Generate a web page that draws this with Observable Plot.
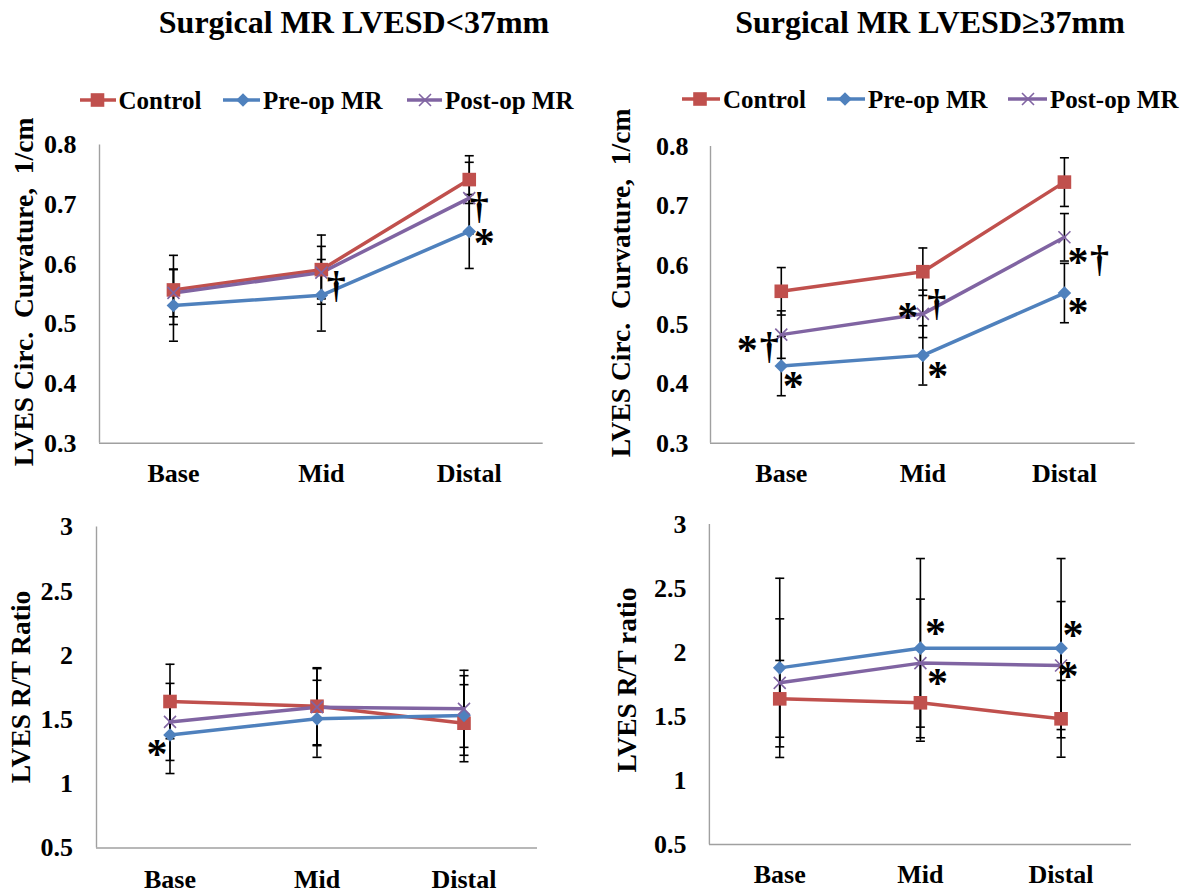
<!DOCTYPE html>
<html><head><meta charset="utf-8">
<script src="https://cdn.jsdelivr.net/npm/d3@7"></script>
<script src="https://cdn.jsdelivr.net/npm/@observablehq/plot@0.6"></script>
<style>
body{margin:0;background:#fff;}
#root{position:relative;width:1190px;height:894px;overflow:hidden;font-family:"Liberation Serif","Times New Roman",serif;font-weight:bold;color:#000;}
.abs{position:absolute;white-space:pre;line-height:1;}
.panel{position:absolute;}
</style></head><body><div id="root"></div>
<script>
// ---------- DATA ----------
const categories = ["Base", "Mid", "Distal"];
const seriesNames = ["Control", "Pre-op MR", "Post-op MR"];
const titles = ["Surgical MR LVESD<37mm", "Surgical MR LVESD\u226537mm"];
const yTitles = ["LVES Circ.  Curvature,  1/cm", "LVES Circ.  Curvature,  1/cm", "LVES R/T Ratio", "LVES R/T ratio"];

const curvTicks = [0.3, 0.4, 0.5, 0.6, 0.7, 0.8];
const curvTickLabels = ["0.3", "0.4", "0.5", "0.6", "0.7", "0.8"];
const ratioTicks = [0.5, 1, 1.5, 2, 2.5, 3];
const ratioTickLabels = ["0.5", "1", "1.5", "2", "2.5", "3"];

// Panel A: LVESD<37mm, circumferential curvature (mean, SD)
const curvSmallControl = [0.557, 0.591, 0.742];
const curvSmallPreop   = [0.531, 0.548, 0.655];
const curvSmallPostop  = [0.552, 0.586, 0.711];
const curvSmallControlSD = [0.058, 0.058, 0.040];
const curvSmallPreopSD   = [0.060, 0.060, 0.062];
const curvSmallPostopSD  = [0.040, 0.044, 0.060];

// Panel B: LVESD>=37mm, circumferential curvature
const curvLargeControl = [0.556, 0.589, 0.740];
const curvLargePreop   = [0.430, 0.448, 0.553];
const curvLargePostop  = [0.483, 0.518, 0.647];
const curvLargeControlSD = [0.040, 0.040, 0.041];
const curvLargePreopSD   = [0.050, 0.050, 0.050];
const curvLargePostopSD  = [0.040, 0.040, 0.040];

// Panel C: LVESD<37mm, R/T ratio
const ratioSmallControl = [1.641, 1.604, 1.472];
const ratioSmallPreop   = [1.380, 1.506, 1.532];
const ratioSmallPostop  = [1.482, 1.597, 1.584];
const ratioSmallControlSD = [0.29, 0.30, 0.30];
const ratioSmallPreopSD   = [0.30, 0.30, 0.31];
const ratioSmallPostopSD  = [0.30, 0.30, 0.30];

// Panel D: LVESD>=37mm, R/T ratio
const ratioLargeControl = [1.638, 1.607, 1.482];
const ratioLargePreop   = [1.880, 2.034, 2.034];
const ratioLargePostop  = [1.763, 1.917, 1.898];
const ratioLargeControlSD = [0.30, 0.30, 0.30];
const ratioLargePreopSD   = [0.70, 0.70, 0.70];
const ratioLargePostopSD  = [0.50, 0.50, 0.50];

// Significance marks: [category, value, symbol]
const annA = [["Mid", 0.561, "\u2020"], ["Distal", 0.694, "\u2020"], ["Distal", 0.646, "*"]];
const annB = [["Base", 0.468, "*"], ["Base", 0.460, "\u2020"], ["Base", 0.406, "*"],
              ["Mid", 0.523, "*"], ["Mid", 0.533, "\u2020"], ["Mid", 0.424, "*"],
              ["Distal", 0.615, "*"], ["Distal", 0.607, "\u2020"], ["Distal", 0.531, "*"]];
const annC = [["Base", 1.279, "*"]];
const annD = [["Mid", 2.198, "*"], ["Mid", 1.807, "*"], ["Distal", 2.185, "*"], ["Distal", 1.862, "*"]];

// ---------- STYLE ----------
const colors = ["#C0504D", "#4F81BD", "#8064A2"];
const FONT = "Liberation Serif, Times New Roman, serif";
const STAR_FS = 42, DAGGER_FS = 38;
const symSquare = {draw(c){ c.moveTo(-6.8,-6.8); c.lineTo(6.8,-6.8); c.lineTo(6.8,6.8); c.lineTo(-6.8,6.8); c.closePath(); }};
const symDiamond = {draw(c){ c.moveTo(0,-6.8); c.lineTo(6.8,0); c.lineTo(0,6.8); c.lineTo(-6.8,0); c.closePath(); }};
const symTimes = {draw(c){ c.moveTo(-6,-6); c.lineTo(6,6); c.moveTo(6,-6); c.lineTo(-6,6); }};
const symCap = {draw(c){ c.moveTo(-4.5,0); c.lineTo(4.5,0); }};
const symbols = [symSquare, symDiamond, symTimes];

const panels = [
  {left:0, top:120, width:595, height:380, mL:99, mR:52.3, mT:24.5, mB:57.3, yDomain:[0.3,0.8], ticks:curvTicks, tickLabels:curvTickLabels, yPad:23, xPad:20.8,
   values:[curvSmallControl, curvSmallPreop, curvSmallPostop], sds:[curvSmallControlSD, curvSmallPreopSD, curvSmallPostopSD], ann:annA, annDx:[15, 10, 15]},
  {left:595, top:120, width:595, height:380, mL:115, mR:55.3, mT:26, mB:57.3, yDomain:[0.3,0.8], ticks:curvTicks, tickLabels:curvTickLabels, yPad:22, xPad:20.8,
   values:[curvLargeControl, curvLargePreop, curvLargePostop], sds:[curvLargeControlSD, curvLargePreopSD, curvLargePostopSD], ann:annB, annDx:[-34, -12, 12, -15, 14, 15, 13.5, 35, 13.5]},
  {left:0, top:500, width:595, height:394, mL:96, mR:58, mT:26.5, mB:46.5, yDomain:[0.5,3], ticks:ratioTicks, tickLabels:ratioTickLabels, yPad:23.5, xPad:22,
   values:[ratioSmallControl, ratioSmallPreop, ratioSmallPostop], sds:[ratioSmallControlSD, ratioSmallPreopSD, ratioSmallPostopSD], ann:annC, annDx:[-13]},
  {left:595, top:500, width:595, height:394, mL:113.9, mR:59.1, mT:24, mB:50, yDomain:[0.5,3], ticks:ratioTicks, tickLabels:ratioTickLabels, yPad:23, xPad:20.5,
   values:[ratioLargeControl, ratioLargePreop, ratioLargePostop], sds:[ratioLargeControlSD, ratioLargePreopSD, ratioLargePostopSD], ann:annD, annDx:[15, 17, 12, 7]}
];

const root = document.getElementById("root");

function makePanel(p) {
  const rows = [];
  seriesNames.forEach((s, si) => {
    categories.forEach((c, ci) => {
      const v = p.values[si][ci], sd = p.sds[si][ci];
      rows.push({series: s, si, cat: c, xi: ci + 0.5, value: v, lo: v - sd, hi: v + sd});
    });
  });
  const annRows = p.ann.map((a, i) => ({xi: categories.indexOf(a[0]) + 0.5, value: a[1], sym: a[2], dx: p.annDx[i]}));
  const stars = annRows.filter(d => d.sym === "*");
  const daggers = annRows.filter(d => d.sym !== "*");
  const marks = [
    Plot.axisY({ticks: p.ticks, tickFormat: d => p.tickLabels[p.ticks.indexOf(d)], tickSize: 0, tickPadding: p.yPad, label: null,
                fontSize: 26, fontWeight: "bold", fontFamily: FONT, fill: "#000"}),
    Plot.axisX({ticks: [0.5, 1.5, 2.5], tickFormat: d => categories[Math.floor(d)], tickSize: 0, tickPadding: p.xPad, label: null,
                fontSize: 26, fontWeight: "bold", fontFamily: FONT, fill: "#000"}),
    Plot.ruleX([0], {stroke: "#a0a0a0", strokeWidth: 1.4}),
    Plot.ruleY([p.yDomain[0]], {stroke: "#a0a0a0", strokeWidth: 1.4}),
    Plot.ruleX(rows, {x: "xi", y1: "lo", y2: "hi", stroke: "#000", strokeWidth: 1.6}),
    Plot.dot(rows, {x: "xi", y: "lo", symbol: symCap, fill: "none", stroke: "#000", strokeWidth: 1.6}),
    Plot.dot(rows, {x: "xi", y: "hi", symbol: symCap, fill: "none", stroke: "#000", strokeWidth: 1.6}),
  ];
  seriesNames.forEach((s, si) => {
    const sr = rows.filter(r => r.si === si);
    marks.push(Plot.line(sr, {x: "xi", y: "value", stroke: colors[si], strokeWidth: 3.5, strokeLinejoin: "round"}));
  });
  seriesNames.forEach((s, si) => {
    const sr = rows.filter(r => r.si === si);
    if (si === 2) marks.push(Plot.dot(sr, {x: "xi", y: "value", symbol: symbols[si], fill: "none", stroke: colors[si], strokeWidth: 1.6}));
    else marks.push(Plot.dot(sr, {x: "xi", y: "value", symbol: symbols[si], fill: colors[si], stroke: "none"}));
  });
  stars.forEach(d => marks.push(Plot.text([d], {x: "xi", y: "value", text: "sym", dx: d.dx, dy: 0.16 * STAR_FS, fontSize: STAR_FS, fontWeight: "bold", fontFamily: FONT, fill: "#000", textAnchor: "middle", lineAnchor: "middle"})));
  daggers.forEach(d => marks.push(Plot.text([d], {x: "xi", y: "value", text: "sym", dx: d.dx, dy: -1.5, fontSize: DAGGER_FS, fontWeight: "bold", fontFamily: FONT, fill: "#000", textAnchor: "middle", lineAnchor: "middle"})));

  const svg = Plot.plot({
    width: p.width, height: p.height,
    marginLeft: p.mL, marginRight: p.mR, marginTop: p.mT, marginBottom: p.mB,
    style: {fontFamily: FONT, fontWeight: "bold", fontSize: "26px", color: "#000", background: "none", overflow: "visible"},
    x: {type: "linear", domain: [0, 3], axis: null},
    y: {domain: p.yDomain, axis: null},
    marks
  });
  svg.classList.add("panel");
  svg.style.left = p.left + "px";
  svg.style.top = p.top + "px";
  root.appendChild(svg);
}
panels.forEach(makePanel);

function addText(txt, x, top, fs, opts = {}) {
  const d = document.createElement("div");
  d.className = "abs";
  d.textContent = txt;
  d.style.left = x + "px";
  d.style.top = top + "px";
  d.style.fontSize = fs + "px";
  if (opts.transform) d.style.transform = opts.transform;
  root.appendChild(d);
  return d;
}

// Titles (centre x, baseline 33)
addText(titles[0], 354, 6.2, 32, {transform: "translateX(-50%)"});
addText(titles[1], 930, 6.2, 32, {transform: "translateX(-50%)"});

// Y-axis titles (rotated, centred)
const yTitlePos = [[24, 292], [621, 282.5], [21, 686.5], [627, 680]];
yTitles.forEach((t, i) => addText(t, yTitlePos[i][0], yTitlePos[i][1], 27.5, {transform: "translate(-50%,-50%) rotate(-90deg)"}));

// Legends
const NS = "http://www.w3.org/2000/svg";
function legendItem(x1, x2, xm, y, si, textLeft, baseline) {
  const w = x2 - x1;
  const s = document.createElementNS(NS, "svg");
  s.setAttribute("width", w); s.setAttribute("height", 20);
  s.style.position = "absolute"; s.style.left = x1 + "px"; s.style.top = (y - 10) + "px"; s.style.overflow = "visible";
  const ln = document.createElementNS(NS, "line");
  ln.setAttribute("x1", 0); ln.setAttribute("x2", w); ln.setAttribute("y1", 10); ln.setAttribute("y2", 10);
  ln.setAttribute("stroke", colors[si]); ln.setAttribute("stroke-width", 3.5);
  s.appendChild(ln);
  const pth = d3.path(); symbols[si].draw(pth);
  const pe = document.createElementNS(NS, "path");
  pe.setAttribute("d", pth.toString());
  pe.setAttribute("transform", `translate(${xm - x1},10)`);
  if (si === 2) { pe.setAttribute("fill", "none"); pe.setAttribute("stroke", colors[si]); pe.setAttribute("stroke-width", 1.6); }
  else pe.setAttribute("fill", colors[si]);
  s.appendChild(pe);
  root.appendChild(s);
  addText(seriesNames[si], textLeft, baseline - 0.8375 * 25, 25);
}
legendItem(80, 116, 97.5, 100, 0, 118.5, 108.5);
legendItem(223, 260, 243, 100, 1, 263, 108.5);
legendItem(407, 442, 425, 100, 2, 445, 108.5);
legendItem(682, 720, 700, 99, 0, 723, 107.5);
legendItem(827, 865, 845, 99, 1, 868, 107.5);
legendItem(1008, 1047, 1028, 99, 2, 1050, 107.5);
</script></body></html>
